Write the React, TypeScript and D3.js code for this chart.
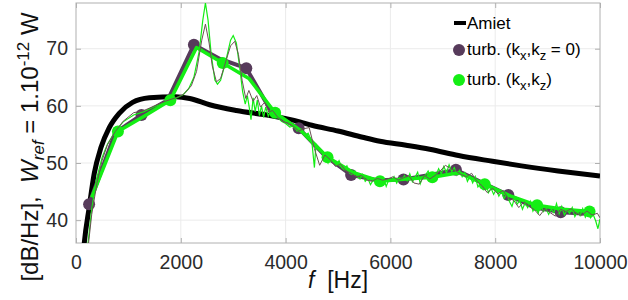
import React, { useRef, useEffect } from 'react';
import * as d3 from 'd3';

// x ticks / y ticks
const xTicks = [0, 2000, 4000, 6000, 8000, 10000];
const yTicks = [40, 50, 60, 70];

// Amiet reference curve [f, dB]
const amiet = [
  [120, 32], [158, 36], [253, 42.3], [349, 48.2], [476, 52.7], [635, 56.2], [825, 58.7],
  [1080, 60.6], [1400, 61.4], [1900, 61.6], [2170, 61.3], [2550, 60.2], [3060, 59.2],
  [3700, 58.3], [4270, 57.2], [4500, 56.6], [5000, 55.6], [5470, 54.5], [5800, 53.8],
  [6300, 53.1], [6750, 52.4], [7300, 51.3], [7950, 50.3], [8500, 49.5], [9200, 48.6],
  [10000, 47.7],
];

// turb. (kx,kz = 0), band averaged
const turbZero = [
  [250, 42.8], [750, 55.3], [1250, 58.4], [1750, 61.0], [2250, 70.7], [2750, 68.2],
  [3250, 66.6], [3750, 58.6], [4250, 56.1], [4750, 51.3], [5250, 47.9], [5750, 47.0],
  [6250, 47.1], [6750, 47.9], [7250, 48.8], [7750, 46.6], [8250, 44.4], [8750, 42.2],
  [9250, 41.4], [9750, 41.1],
];

// turb. (kx,kz), band averaged
const turbFull = [
  [300, 44.0], [800, 55.5], [1300, 58.2], [1800, 61.0], [2300, 70.2], [2800, 67.5],
  [3300, 64.8], [3800, 58.8], [4300, 55.6], [4800, 51.0], [5300, 48.3], [5800, 46.8],
  [6300, 47.2], [6800, 47.5], [7300, 48.3], [7800, 46.3], [8300, 44.2], [8800, 42.6],
  [9300, 41.9], [9800, 41.5],
];

// narrow band spectrum, kx,kz = 0
const narrowZero = [
  [240, 36], [300, 41], [400, 46.5], [500, 50.5], [600, 53.2], [750, 55.5], [900, 57.3],
  [1100, 58.8], [1300, 59.2], [1500, 60], [1700, 60.8], [1900, 61.4], [2050, 62],
  [2200, 63.5], [2300, 66], [2400, 71.5], [2470, 74.3], [2540, 71], [2600, 67],
  [2680, 64.2], [2760, 64.8], [2850, 67.5], [2950, 70.5], [3030, 71.3], [3100, 69],
  [3170, 64.5], [3240, 61.3], [3300, 62.7], [3380, 60.8], [3450, 61.8], [3520, 59.8],
  [3600, 60.6], [3680, 58.9], [3750, 59.2], [3850, 58.0], [3950, 57.2], [4050, 57.0],
  [4150, 56.4], [4250, 55.6], [4350, 56.0], [4450, 56.2], [4550, 52.5], [4650, 49.6],
  [4750, 51.4], [4850, 50.6], [4950, 49.4], [5050, 49.8], [5150, 48.6], [5250, 48.2],
  [5350, 47.6], [5450, 47.8], [5550, 47.0], [5650, 46.8], [5750, 47.3], [5850, 47.0],
  [5950, 47.2], [6050, 47.6], [6150, 47.0], [6250, 47.4], [6350, 47.8], [6450, 46.5],
  [6550, 46.3], [6650, 47.8], [6750, 47.2], [6850, 47.8], [6950, 48.6], [7050, 49.6],
  [7150, 49.0], [7250, 48.6], [7350, 48.0], [7450, 47.6], [7550, 48.2], [7650, 46.8],
  [7750, 46.0], [7850, 44.8], [7950, 45.6], [8050, 44.6], [8150, 45.2], [8250, 43.8],
  [8350, 43.5], [8450, 42.2], [8550, 43.2], [8650, 42.4], [8750, 41.8], [8850, 40.8],
  [8950, 42.0], [9050, 41.3], [9150, 40.7], [9250, 41.9], [9350, 41.5], [9450, 42.0],
  [9550, 41.2], [9650, 40.8], [9750, 41.6], [9850, 40.9], [9950, 41.2], [10000, 40.4],
];

// narrow band spectrum, kx,kz
const narrowFull = [
  [230, 36], [300, 42], [400, 47.5], [500, 51], [600, 53.3], [750, 55.6], [900, 57.2],
  [1100, 58.4], [1300, 59], [1500, 59.9], [1700, 60.6], [1900, 61.3], [2050, 62],
  [2150, 63], [2250, 65], [2350, 69.5], [2420, 75], [2470, 78], [2520, 75], [2580, 69],
  [2650, 64.5], [2700, 63.8], [2760, 64.5], [2850, 67.5], [2950, 71.5], [3000, 72.3],
  [3060, 71], [3120, 67], [3180, 62.5], [3230, 60.3], [3270, 61.8], [3310, 59.5],
  [3340, 57.6], [3380, 61.4], [3420, 59.0], [3460, 61.0], [3500, 58.3], [3540, 60.0],
  [3580, 58.0], [3620, 59.8], [3670, 58.2], [3720, 59.3], [3780, 58.4], [3850, 58.0],
  [3920, 57.3], [4000, 56.9], [4080, 56.3], [4150, 56.5], [4220, 55.6], [4300, 55.9],
  [4370, 54.8], [4430, 55.2], [4500, 53.8], [4550, 49.2], [4580, 53.3], [4640, 52.6],
  [4700, 52.0], [4760, 51.2], [4810, 50.0], [4860, 51.4], [4920, 50.2], [4970, 49.6],
  [5020, 50.4], [5070, 49.2], [5120, 48.8], [5170, 49.5], [5220, 48.2], [5270, 48.0],
  [5320, 48.6], [5370, 47.6], [5420, 47.2], [5470, 48.0], [5520, 46.8], [5570, 47.3],
  [5620, 46.2], [5670, 47.0], [5720, 46.6], [5770, 47.2], [5820, 46.4], [5870, 47.4],
  [5920, 45.9], [5970, 47.1], [6020, 46.8], [6070, 47.6], [6120, 46.5], [6170, 47.4],
  [6220, 47.0], [6270, 47.8], [6320, 46.9], [6370, 48.1], [6420, 46.7], [6470, 47.5],
  [6520, 48.4], [6570, 46.4], [6620, 47.6], [6670, 47.9], [6720, 48.6], [6770, 47.4],
  [6820, 48.3], [6870, 47.8], [6920, 49.0], [6970, 48.1], [7020, 49.4], [7070, 48.3],
  [7120, 49.7], [7170, 48.5], [7220, 49.2], [7270, 47.9], [7320, 48.7], [7370, 47.6],
  [7420, 48.3], [7470, 46.8], [7520, 47.7], [7570, 46.5], [7620, 47.6], [7670, 45.8],
  [7720, 46.4], [7770, 45.4], [7820, 46.7], [7870, 44.8], [7920, 45.6], [7970, 44.5],
  [8020, 45.4], [8070, 44.2], [8120, 45.0], [8170, 43.8], [8220, 44.6], [8270, 43.3],
  [8320, 42.4], [8370, 43.9], [8420, 42.8], [8470, 43.4], [8520, 41.9], [8570, 43.0],
  [8620, 42.2], [8670, 43.3], [8720, 41.6], [8770, 42.5], [8820, 41.2], [8870, 42.8],
  [8920, 41.5], [8970, 42.1], [9020, 41.0], [9070, 41.9], [9120, 41.3], [9170, 42.9],
  [9220, 41.1], [9270, 42.4], [9320, 40.9], [9370, 41.8], [9420, 41.2], [9470, 42.2],
  [9520, 40.6], [9570, 41.5], [9620, 40.8], [9670, 42.0], [9720, 40.5], [9770, 41.3],
  [9820, 40.4], [9870, 41.0], [9920, 39.8], [9960, 38.5], [10000, 40.2],
];

const W = 628, H = 300;
const L = 76, R = 600, T = 3, B = 243;
const FONT = '"Liberation Sans", Arial, sans-serif';
const PURPLE = '#573b5b';
const GREEN = '#14ee14';
const THIN_DARK = '#6a5252';

const App = () => {
  const svgRef = useRef(null);

  useEffect(() => {
    const svg = d3.select(svgRef.current);
    svg.selectAll('*').remove();

    const x = d3.scaleLinear().domain([0, 10000]).range([L, R]);
    const y = d3.scaleLinear().domain([36, 78]).range([B, T]);

    svg.append('defs').append('clipPath').attr('id', 'plotclip')
      .append('rect').attr('x', L).attr('y', T).attr('width', R - L).attr('height', B - T);

    // grid
    const grid = svg.append('g').attr('stroke', '#ebebeb').attr('stroke-width', 1);
    xTicks.slice(1, -1).forEach((t) => {
      grid.append('line').attr('x1', x(t)).attr('x2', x(t)).attr('y1', T).attr('y2', B);
    });
    yTicks.forEach((t) => {
      grid.append('line').attr('x1', L).attr('x2', R).attr('y1', y(t)).attr('y2', y(t));
    });

    // axes
    const fmt = d3.format('d');
    const xAxis = d3.axisBottom(x).tickValues(xTicks).tickFormat(fmt)
      .tickSizeInner(-5).tickSizeOuter(0).tickPadding(12);
    const yAxis = d3.axisLeft(y).tickValues(yTicks).tickFormat(fmt)
      .tickSizeInner(-5).tickSizeOuter(0).tickPadding(8);
    const xTop = d3.axisTop(x).tickValues(xTicks).tickSizeInner(-5).tickSizeOuter(0).tickFormat(() => '');
    const yRight = d3.axisRight(y).tickValues(yTicks).tickSizeInner(-5).tickSizeOuter(0).tickFormat(() => '');

    const styleAxis = (g) => {
      g.select('.domain').remove();
      g.selectAll('line').attr('stroke', '#b0b0b0');
      g.selectAll('text').attr('fill', '#2b2b2b').style('font-family', FONT).style('font-size', '19.5px');
    };
    svg.append('g').attr('transform', `translate(0,${B})`).call(xAxis).call(styleAxis);
    svg.append('g').attr('transform', `translate(${L},0)`).call(yAxis).call(styleAxis);
    svg.append('g').attr('transform', `translate(0,${T})`).call(xTop).call(styleAxis);
    svg.append('g').attr('transform', `translate(${R},0)`).call(yRight).call(styleAxis);

    svg.append('rect').attr('x', L).attr('y', T).attr('width', R - L).attr('height', B - T)
      .attr('fill', 'none').attr('stroke', '#b0b0b0').attr('stroke-width', 1);

    const plot = svg.append('g').attr('clip-path', 'url(#plotclip)');
    const line = d3.line().x((d) => x(d[0])).y((d) => y(d[1]));
    const smooth = d3.line().x((d) => x(d[0])).y((d) => y(d[1])).curve(d3.curveMonotoneX);

    plot.append('path').datum(amiet).attr('d', smooth)
      .attr('fill', 'none').attr('stroke', '#000').attr('stroke-width', 5);

    plot.append('path').datum(turbZero).attr('d', line)
      .attr('fill', 'none').attr('stroke', PURPLE).attr('stroke-width', 4).attr('stroke-linejoin', 'round');
    plot.selectAll('.mz').data(turbZero.filter((d, i) => i % 2 === 0)).enter()
      .append('circle').attr('cx', (d) => x(d[0])).attr('cy', (d) => y(d[1])).attr('r', 6).attr('fill', PURPLE);

    plot.append('path').datum(turbFull).attr('d', line)
      .attr('fill', 'none').attr('stroke', GREEN).attr('stroke-width', 3.5).attr('stroke-linejoin', 'round');
    plot.selectAll('.mf').data(turbFull.filter((d, i) => i % 2 === 1)).enter()
      .append('circle').attr('cx', (d) => x(d[0])).attr('cy', (d) => y(d[1])).attr('r', 6).attr('fill', GREEN);

    plot.append('path').datum(narrowFull).attr('d', line)
      .attr('fill', 'none').attr('stroke', GREEN).attr('stroke-width', 1.2);
    plot.append('path').datum(narrowZero).attr('d', line)
      .attr('fill', 'none').attr('stroke', THIN_DARK).attr('stroke-width', 1);

    // legend
    const lg = svg.append('g').style('font-family', FONT).style('font-size', '17px').attr('fill', '#000');
    lg.append('line').attr('x1', 454).attr('x2', 466).attr('y1', 23).attr('y2', 23)
      .attr('stroke', '#000').attr('stroke-width', 4);
    lg.append('text').attr('x', 467).attr('y', 29).text('Amiet');
    lg.append('circle').attr('cx', 459).attr('cy', 50).attr('r', 6).attr('fill', PURPLE);
    const t1 = lg.append('text').attr('x', 467).attr('y', 55);
    t1.append('tspan').text('turb. (k');
    t1.append('tspan').attr('dy', 5).style('font-size', '13px').text('x');
    t1.append('tspan').attr('dy', -5).text(',k');
    t1.append('tspan').attr('dy', 5).style('font-size', '13px').text('z');
    t1.append('tspan').attr('dy', -5).text(' = 0)');
    lg.append('circle').attr('cx', 459).attr('cy', 80).attr('r', 6).attr('fill', GREEN);
    const t2 = lg.append('text').attr('x', 467).attr('y', 85);
    t2.append('tspan').text('turb. (k');
    t2.append('tspan').attr('dy', 5).style('font-size', '13px').text('x');
    t2.append('tspan').attr('dy', -5).text(',k');
    t2.append('tspan').attr('dy', 5).style('font-size', '13px').text('z');
    t2.append('tspan').attr('dy', -5).text(')');

    // x label
    const xl = svg.append('text').attr('x', 338).attr('y', 288).attr('text-anchor', 'middle')
      .style('font-family', FONT).style('font-size', '23px').attr('fill', '#111');
    xl.append('tspan').style('font-style', 'italic').text('f');
    xl.append('tspan').text('\u00a0\u00a0[Hz]');

    // y label
    const yl = svg.append('text').attr('transform', 'translate(38,147) rotate(-90)')
      .attr('text-anchor', 'middle').style('font-family', FONT).style('font-size', '24px').attr('fill', '#111');
    yl.append('tspan').text('[dB/Hz],\u00a0\u00a0');
    yl.append('tspan').style('font-style', 'italic').text('W');
    yl.append('tspan').attr('dy', 6).style('font-style', 'italic').style('font-size', '17px').text('ref');
    yl.append('tspan').attr('dy', -6).text('\u00a0= 1.10');
    yl.append('tspan').attr('dy', -9).style('font-size', '17px').text('-12');
    yl.append('tspan').attr('dy', 9).text('\u00a0W');
  }, []);

  return (
    <svg ref={svgRef} width={W} height={H}
      style={{ position: 'absolute', left: 0, top: 0, background: '#fff' }} />
  );
};

export default App;
